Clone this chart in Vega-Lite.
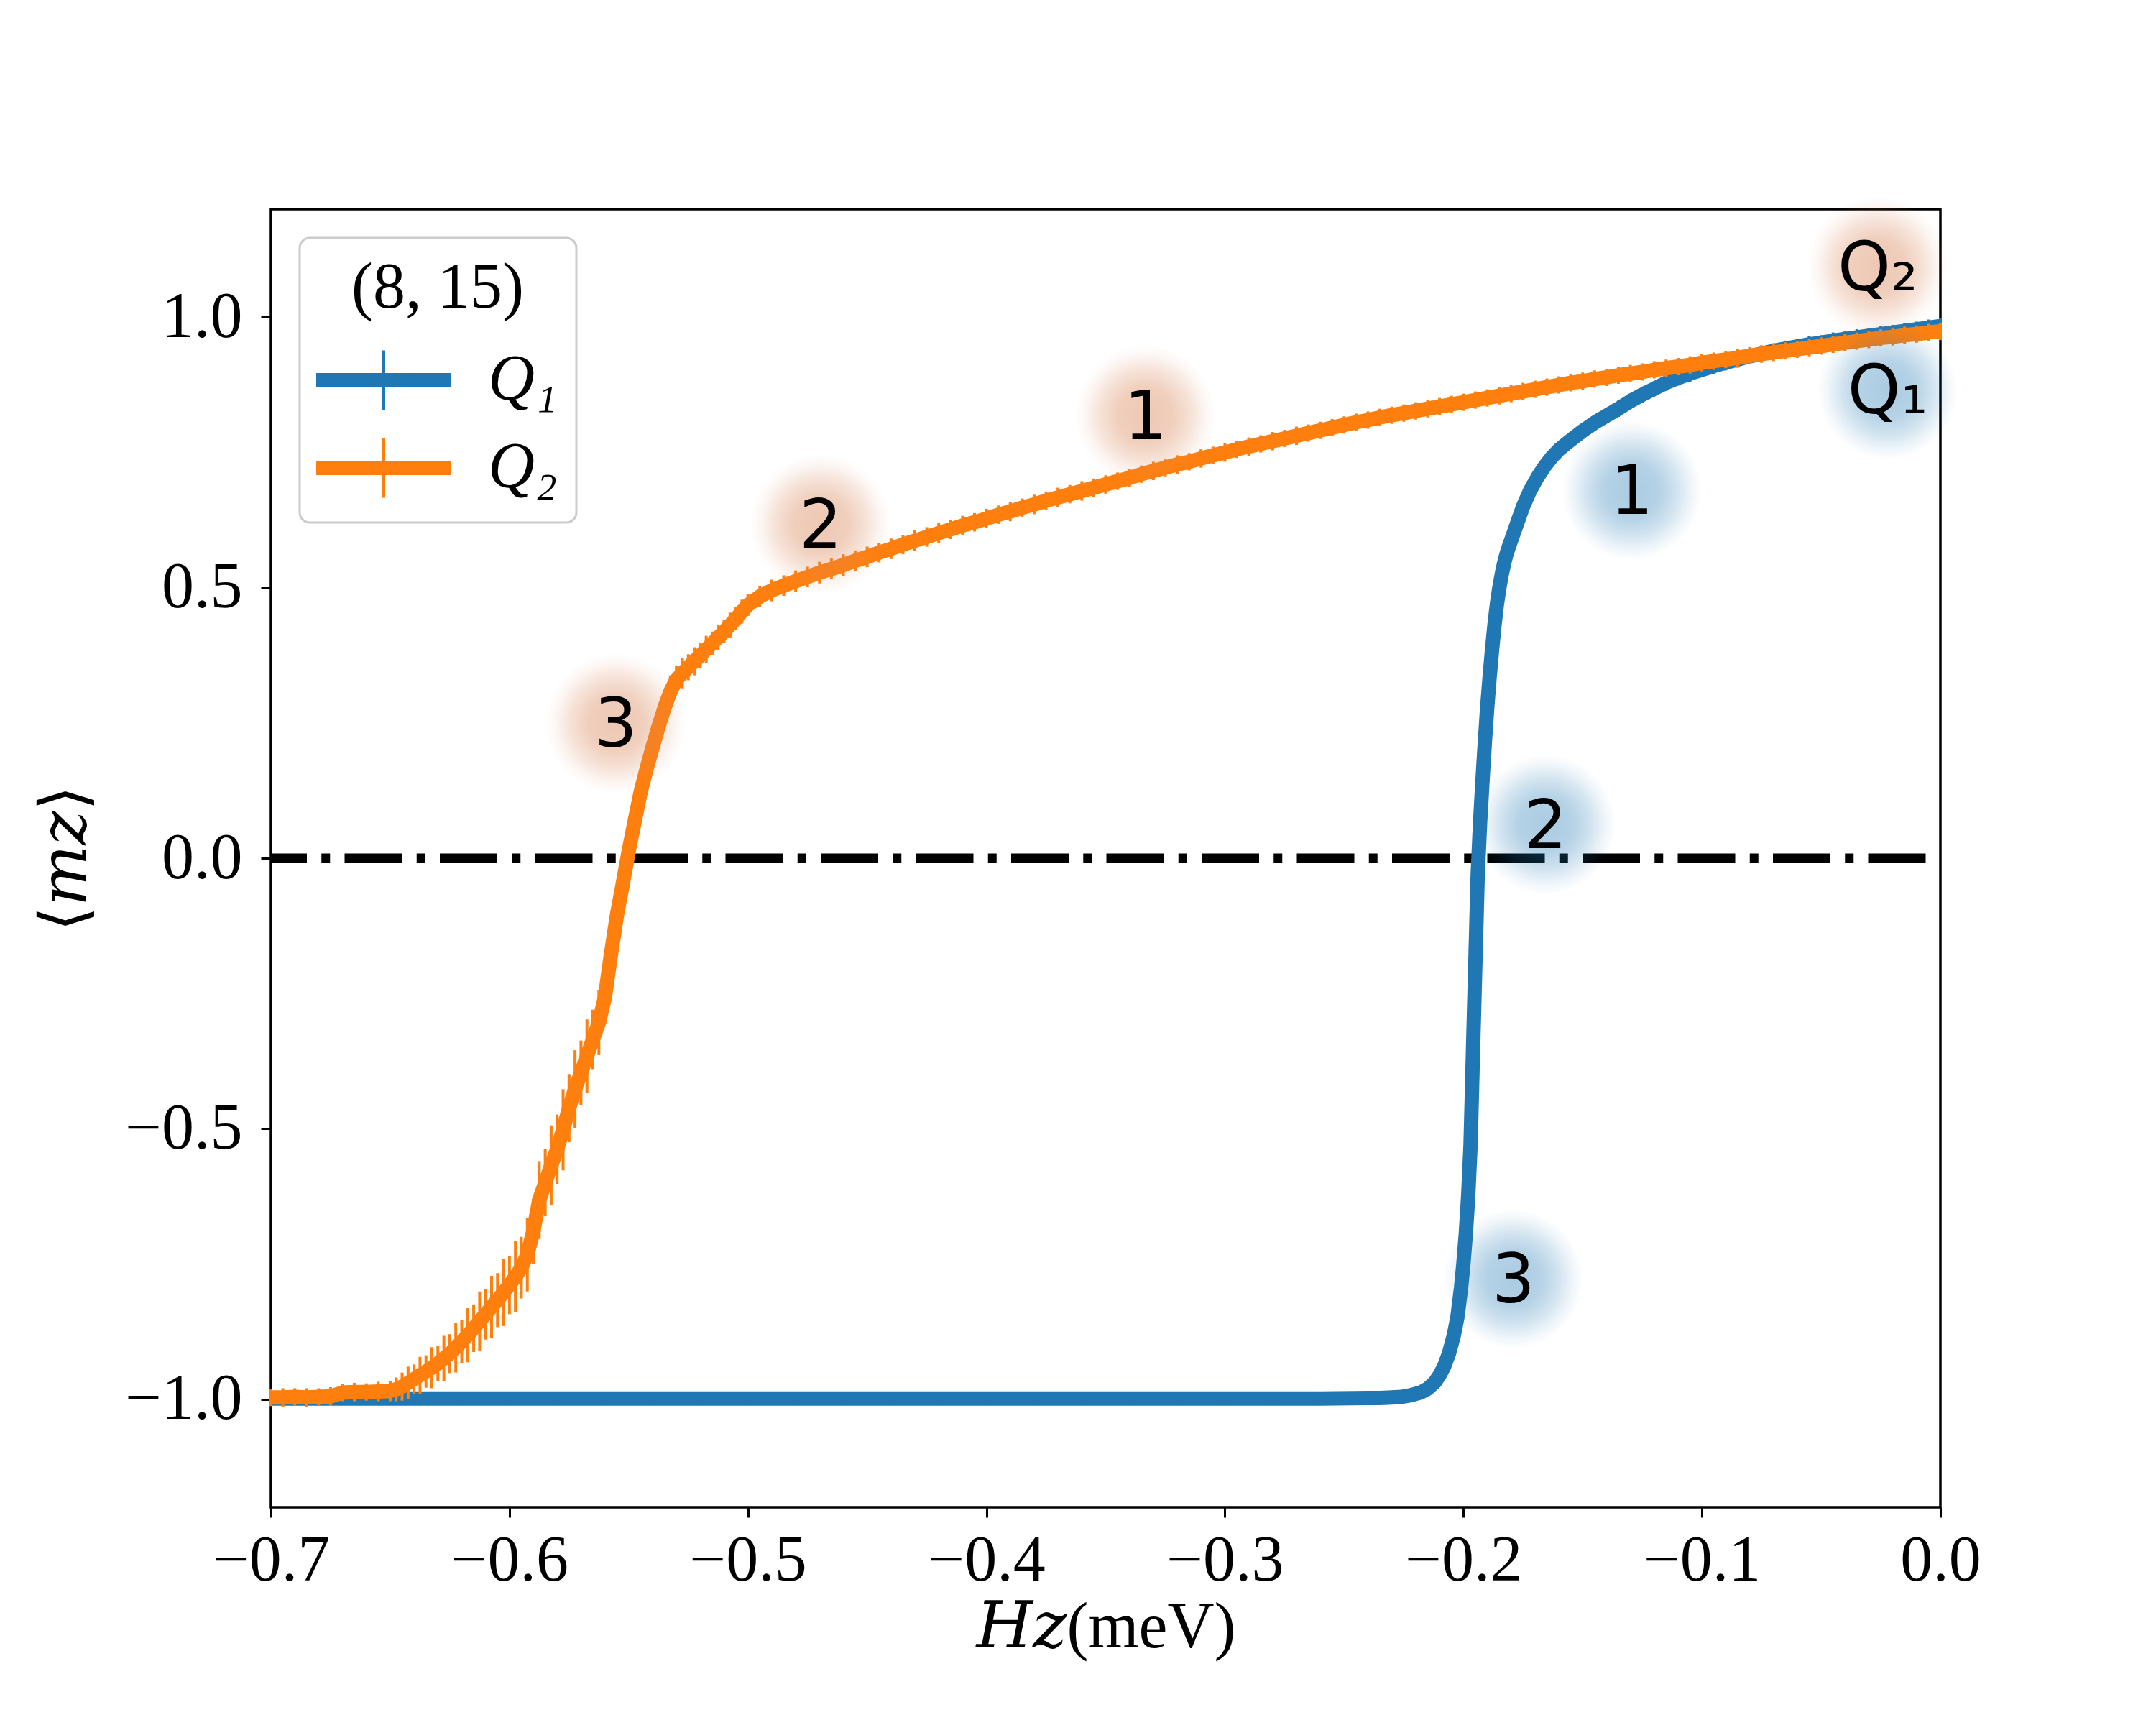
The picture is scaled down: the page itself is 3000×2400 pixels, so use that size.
{
  "$schema": "https://vega.github.io/schema/vega-lite/v6.json",
  "width": 2323,
  "height": 1806,
  "autosize": {"type": "none"},
  "padding": {"left": 377, "top": 291, "right": 300, "bottom": 303},
  "background": "white",
  "config": {
    "font": "Liberation Serif",
    "view": {"stroke": "black", "strokeWidth": 3.5},
    "legend": {"strokeWidth": 3},
    "axis": {
      "domain": false,
      "grid": false,
      "ticks": true,
      "tickColor": "black",
      "tickWidth": 3,
      "tickSize": 14,
      "labelFont": "Liberation Serif",
      "labelFontSize": 90,
      "labelColor": "black",
      "labelFlush": false,
      "labelOverlap": false,
      "labelBound": false,
      "titleFont": "Liberation Serif, DejaVu Serif",
      "titleFontSize": 90,
      "titleFontWeight": "normal",
      "titleColor": "black"
    }
  },
  "datasets": {
    "q1": [
      {"h": -0.70, "m": -0.999, "e": 0.004}, {"h": -0.68, "m": -0.999, "e": 0.004}, {"h": -0.66, "m": -0.999, "e": 0.004},
      {"h": -0.64, "m": -0.999, "e": 0.004}, {"h": -0.62, "m": -0.999, "e": 0.004}, {"h": -0.60, "m": -0.999, "e": 0.004},
      {"h": -0.58, "m": -0.999, "e": 0.004}, {"h": -0.56, "m": -0.999, "e": 0.004}, {"h": -0.54, "m": -0.999, "e": 0.004},
      {"h": -0.52, "m": -0.999, "e": 0.004}, {"h": -0.50, "m": -0.999, "e": 0.004}, {"h": -0.48, "m": -0.999, "e": 0.004},
      {"h": -0.46, "m": -0.999, "e": 0.004}, {"h": -0.44, "m": -0.999, "e": 0.004}, {"h": -0.42, "m": -0.999, "e": 0.004},
      {"h": -0.40, "m": -0.999, "e": 0.004}, {"h": -0.38, "m": -0.999, "e": 0.004}, {"h": -0.36, "m": -0.999, "e": 0.004},
      {"h": -0.34, "m": -0.999, "e": 0.004}, {"h": -0.32, "m": -0.999, "e": 0.004}, {"h": -0.30, "m": -0.999, "e": 0.004},
      {"h": -0.28, "m": -0.999, "e": 0.004}, {"h": -0.26, "m": -0.999, "e": 0.004}, {"h": -0.24, "m": -0.998, "e": 0.004},
      {"h": -0.235, "m": -0.998, "e": 0.004}, {"h": -0.230, "m": -0.997, "e": 0.004}, {"h": -0.226, "m": -0.996, "e": 0.004},
      {"h": -0.222, "m": -0.993, "e": 0.005}, {"h": -0.218, "m": -0.988, "e": 0.005}, {"h": -0.215, "m": -0.981, "e": 0.005},
      {"h": -0.212, "m": -0.969, "e": 0.006}, {"h": -0.210, "m": -0.956, "e": 0.006}, {"h": -0.208, "m": -0.939, "e": 0.006},
      {"h": -0.206, "m": -0.915, "e": 0.006}, {"h": -0.204, "m": -0.882, "e": 0.006}, {"h": -0.2025, "m": -0.848, "e": 0.006},
      {"h": -0.201, "m": -0.795, "e": 0.006}, {"h": -0.200, "m": -0.750, "e": 0.006}, {"h": -0.199, "m": -0.695, "e": 0.006},
      {"h": -0.198, "m": -0.625, "e": 0.006}, {"h": -0.197, "m": -0.530, "e": 0.006}, {"h": -0.196, "m": -0.360, "e": 0.006},
      {"h": -0.195, "m": -0.195, "e": 0.006}, {"h": -0.194, "m": -0.030, "e": 0.006}, {"h": -0.193, "m": 0.066, "e": 0.006},
      {"h": -0.192, "m": 0.143, "e": 0.006}, {"h": -0.191, "m": 0.215, "e": 0.006}, {"h": -0.190, "m": 0.280, "e": 0.006},
      {"h": -0.189, "m": 0.335, "e": 0.007}, {"h": -0.188, "m": 0.385, "e": 0.007}, {"h": -0.187, "m": 0.430, "e": 0.008},
      {"h": -0.186, "m": 0.468, "e": 0.008}, {"h": -0.185, "m": 0.498, "e": 0.009}, {"h": -0.184, "m": 0.523, "e": 0.009},
      {"h": -0.183, "m": 0.544, "e": 0.010}, {"h": -0.182, "m": 0.561, "e": 0.010}, {"h": -0.181, "m": 0.575, "e": 0.011},
      {"h": -0.179, "m": 0.600, "e": 0.011}, {"h": -0.177, "m": 0.625, "e": 0.012}, {"h": -0.175, "m": 0.650, "e": 0.012},
      {"h": -0.172, "m": 0.680, "e": 0.013}, {"h": -0.169, "m": 0.704, "e": 0.013}, {"h": -0.166, "m": 0.724, "e": 0.014},
      {"h": -0.163, "m": 0.741, "e": 0.014}, {"h": -0.160, "m": 0.755, "e": 0.014}, {"h": -0.155, "m": 0.773, "e": 0.015},
      {"h": -0.150, "m": 0.790, "e": 0.014}, {"h": -0.145, "m": 0.805, "e": 0.015}, {"h": -0.140, "m": 0.818, "e": 0.014},
      {"h": -0.135, "m": 0.831, "e": 0.015}, {"h": -0.130, "m": 0.845, "e": 0.014}, {"h": -0.125, "m": 0.857, "e": 0.015},
      {"h": -0.120, "m": 0.868, "e": 0.014}, {"h": -0.115, "m": 0.879, "e": 0.015}, {"h": -0.110, "m": 0.888, "e": 0.014},
      {"h": -0.105, "m": 0.896, "e": 0.015}, {"h": -0.100, "m": 0.903, "e": 0.014}, {"h": -0.095, "m": 0.910, "e": 0.015},
      {"h": -0.090, "m": 0.916, "e": 0.014}, {"h": -0.085, "m": 0.922, "e": 0.015}, {"h": -0.080, "m": 0.928, "e": 0.014},
      {"h": -0.075, "m": 0.933, "e": 0.015}, {"h": -0.070, "m": 0.938, "e": 0.014}, {"h": -0.065, "m": 0.942, "e": 0.015},
      {"h": -0.060, "m": 0.946, "e": 0.014}, {"h": -0.055, "m": 0.950, "e": 0.015}, {"h": -0.050, "m": 0.953, "e": 0.014},
      {"h": -0.045, "m": 0.957, "e": 0.015}, {"h": -0.040, "m": 0.960, "e": 0.014}, {"h": -0.035, "m": 0.963, "e": 0.015},
      {"h": -0.030, "m": 0.966, "e": 0.014}, {"h": -0.025, "m": 0.969, "e": 0.015}, {"h": -0.020, "m": 0.972, "e": 0.014},
      {"h": -0.015, "m": 0.975, "e": 0.015}, {"h": -0.010, "m": 0.978, "e": 0.014}, {"h": -0.005, "m": 0.981, "e": 0.015},
      {"h": 0.000, "m": 0.984, "e": 0.014}
    ],
    "q2": [
      {"h": -0.700, "m": -0.997, "e": 0.016}, {"h": -0.695, "m": -0.997, "e": 0.017}, {"h": -0.690, "m": -0.996, "e": 0.016},
      {"h": -0.685, "m": -0.997, "e": 0.017}, {"h": -0.680, "m": -0.996, "e": 0.016}, {"h": -0.675, "m": -0.995, "e": 0.017},
      {"h": -0.670, "m": -0.988, "e": 0.016}, {"h": -0.665, "m": -0.987, "e": 0.017}, {"h": -0.660, "m": -0.987, "e": 0.016},
      {"h": -0.655, "m": -0.986, "e": 0.018}, {"h": -0.650, "m": -0.985, "e": 0.019},
      {"h": -0.6475, "m": -0.982, "e": 0.022}, {"h": -0.6450, "m": -0.977, "e": 0.026}, {"h": -0.6425, "m": -0.970, "e": 0.030},
      {"h": -0.6400, "m": -0.963, "e": 0.027}, {"h": -0.6375, "m": -0.956, "e": 0.034}, {"h": -0.6350, "m": -0.949, "e": 0.030},
      {"h": -0.6325, "m": -0.942, "e": 0.038}, {"h": -0.6300, "m": -0.934, "e": 0.033}, {"h": -0.6275, "m": -0.925, "e": 0.042},
      {"h": -0.6250, "m": -0.916, "e": 0.036}, {"h": -0.6225, "m": -0.905, "e": 0.046}, {"h": -0.6200, "m": -0.894, "e": 0.040},
      {"h": -0.6175, "m": -0.882, "e": 0.050}, {"h": -0.6150, "m": -0.869, "e": 0.044}, {"h": -0.6125, "m": -0.856, "e": 0.055},
      {"h": -0.6100, "m": -0.843, "e": 0.047}, {"h": -0.6075, "m": -0.830, "e": 0.058}, {"h": -0.6050, "m": -0.817, "e": 0.050},
      {"h": -0.6025, "m": -0.803, "e": 0.062}, {"h": -0.6000, "m": -0.789, "e": 0.054}, {"h": -0.5975, "m": -0.774, "e": 0.066},
      {"h": -0.5950, "m": -0.757, "e": 0.057}, {"h": -0.5925, "m": -0.733, "e": 0.068}, {"h": -0.5900, "m": -0.690, "e": 0.060},
      {"h": -0.5875, "m": -0.632, "e": 0.072}, {"h": -0.5850, "m": -0.600, "e": 0.062}, {"h": -0.5825, "m": -0.568, "e": 0.074},
      {"h": -0.5800, "m": -0.538, "e": 0.064}, {"h": -0.5775, "m": -0.502, "e": 0.075}, {"h": -0.5750, "m": -0.462, "e": 0.063},
      {"h": -0.5725, "m": -0.427, "e": 0.072}, {"h": -0.5700, "m": -0.397, "e": 0.060}, {"h": -0.5675, "m": -0.366, "e": 0.068},
      {"h": -0.5650, "m": -0.335, "e": 0.055}, {"h": -0.5625, "m": -0.304, "e": 0.060}, {"h": -0.5600, "m": -0.258, "e": 0.048},
      {"h": -0.5575, "m": -0.180, "e": 0.052}, {"h": -0.5550, "m": -0.107, "e": 0.042}, {"h": -0.5525, "m": -0.048, "e": 0.045},
      {"h": -0.5500, "m": 0.013, "e": 0.038}, {"h": -0.5475, "m": 0.068, "e": 0.040}, {"h": -0.5450, "m": 0.122, "e": 0.034},
      {"h": -0.5425, "m": 0.165, "e": 0.036}, {"h": -0.5400, "m": 0.205, "e": 0.031}, {"h": -0.5375, "m": 0.243, "e": 0.033},
      {"h": -0.5350, "m": 0.278, "e": 0.028}, {"h": -0.5325, "m": 0.308, "e": 0.030}, {"h": -0.5300, "m": 0.330, "e": 0.026},
      {"h": -0.5275, "m": 0.342, "e": 0.028}, {"h": -0.5250, "m": 0.353, "e": 0.024}, {"h": -0.5225, "m": 0.364, "e": 0.026},
      {"h": -0.5200, "m": 0.375, "e": 0.023}, {"h": -0.5175, "m": 0.386, "e": 0.025}, {"h": -0.5150, "m": 0.397, "e": 0.022},
      {"h": -0.5125, "m": 0.408, "e": 0.024}, {"h": -0.5100, "m": 0.419, "e": 0.021}, {"h": -0.5075, "m": 0.431, "e": 0.023},
      {"h": -0.5050, "m": 0.443, "e": 0.021}, {"h": -0.5025, "m": 0.456, "e": 0.022}, {"h": -0.5000, "m": 0.468, "e": 0.020},
      {"h": -0.495, "m": 0.484, "e": 0.019}, {"h": -0.490, "m": 0.495, "e": 0.020}, {"h": -0.485, "m": 0.504, "e": 0.019},
      {"h": -0.480, "m": 0.512, "e": 0.020}, {"h": -0.475, "m": 0.520, "e": 0.019}, {"h": -0.470, "m": 0.528, "e": 0.020},
      {"h": -0.465, "m": 0.535, "e": 0.019}, {"h": -0.460, "m": 0.542, "e": 0.020}, {"h": -0.455, "m": 0.550, "e": 0.019},
      {"h": -0.450, "m": 0.557, "e": 0.019}, {"h": -0.445, "m": 0.565, "e": 0.018}, {"h": -0.440, "m": 0.572, "e": 0.019},
      {"h": -0.435, "m": 0.580, "e": 0.018}, {"h": -0.430, "m": 0.587, "e": 0.019}, {"h": -0.425, "m": 0.594, "e": 0.018},
      {"h": -0.420, "m": 0.601, "e": 0.019}, {"h": -0.415, "m": 0.608, "e": 0.018}, {"h": -0.410, "m": 0.615, "e": 0.018},
      {"h": -0.405, "m": 0.621, "e": 0.017}, {"h": -0.400, "m": 0.628, "e": 0.018}, {"h": -0.395, "m": 0.635, "e": 0.017},
      {"h": -0.390, "m": 0.641, "e": 0.018}, {"h": -0.385, "m": 0.648, "e": 0.017}, {"h": -0.380, "m": 0.654, "e": 0.018},
      {"h": -0.375, "m": 0.661, "e": 0.017}, {"h": -0.370, "m": 0.667, "e": 0.018}, {"h": -0.365, "m": 0.673, "e": 0.017},
      {"h": -0.360, "m": 0.679, "e": 0.018}, {"h": -0.355, "m": 0.685, "e": 0.017}, {"h": -0.350, "m": 0.691, "e": 0.017},
      {"h": -0.345, "m": 0.697, "e": 0.016}, {"h": -0.340, "m": 0.703, "e": 0.017}, {"h": -0.335, "m": 0.710, "e": 0.016},
      {"h": -0.330, "m": 0.716, "e": 0.017}, {"h": -0.325, "m": 0.722, "e": 0.016}, {"h": -0.320, "m": 0.728, "e": 0.017},
      {"h": -0.315, "m": 0.733, "e": 0.016}, {"h": -0.310, "m": 0.739, "e": 0.017}, {"h": -0.305, "m": 0.745, "e": 0.016},
      {"h": -0.300, "m": 0.750, "e": 0.017}, {"h": -0.295, "m": 0.756, "e": 0.016}, {"h": -0.290, "m": 0.761, "e": 0.017},
      {"h": -0.285, "m": 0.766, "e": 0.016}, {"h": -0.280, "m": 0.771, "e": 0.017}, {"h": -0.275, "m": 0.776, "e": 0.016},
      {"h": -0.270, "m": 0.781, "e": 0.017}, {"h": -0.265, "m": 0.786, "e": 0.016}, {"h": -0.260, "m": 0.791, "e": 0.016},
      {"h": -0.255, "m": 0.796, "e": 0.016}, {"h": -0.250, "m": 0.801, "e": 0.016}, {"h": -0.245, "m": 0.806, "e": 0.016},
      {"h": -0.240, "m": 0.810, "e": 0.016}, {"h": -0.235, "m": 0.815, "e": 0.016}, {"h": -0.230, "m": 0.819, "e": 0.016},
      {"h": -0.225, "m": 0.823, "e": 0.016}, {"h": -0.220, "m": 0.827, "e": 0.016}, {"h": -0.215, "m": 0.831, "e": 0.016},
      {"h": -0.210, "m": 0.835, "e": 0.016}, {"h": -0.205, "m": 0.839, "e": 0.016}, {"h": -0.200, "m": 0.843, "e": 0.016},
      {"h": -0.195, "m": 0.847, "e": 0.016}, {"h": -0.190, "m": 0.851, "e": 0.016}, {"h": -0.185, "m": 0.855, "e": 0.016},
      {"h": -0.180, "m": 0.859, "e": 0.016}, {"h": -0.175, "m": 0.863, "e": 0.016}, {"h": -0.170, "m": 0.867, "e": 0.016},
      {"h": -0.165, "m": 0.871, "e": 0.016}, {"h": -0.160, "m": 0.875, "e": 0.016}, {"h": -0.155, "m": 0.879, "e": 0.016},
      {"h": -0.150, "m": 0.882, "e": 0.016}, {"h": -0.145, "m": 0.886, "e": 0.016}, {"h": -0.140, "m": 0.889, "e": 0.016},
      {"h": -0.135, "m": 0.893, "e": 0.016}, {"h": -0.130, "m": 0.896, "e": 0.016}, {"h": -0.125, "m": 0.899, "e": 0.016},
      {"h": -0.120, "m": 0.903, "e": 0.016}, {"h": -0.115, "m": 0.906, "e": 0.016}, {"h": -0.110, "m": 0.909, "e": 0.016},
      {"h": -0.105, "m": 0.912, "e": 0.016}, {"h": -0.100, "m": 0.916, "e": 0.016}, {"h": -0.095, "m": 0.919, "e": 0.016},
      {"h": -0.090, "m": 0.922, "e": 0.016}, {"h": -0.085, "m": 0.925, "e": 0.016}, {"h": -0.080, "m": 0.929, "e": 0.016},
      {"h": -0.075, "m": 0.932, "e": 0.016}, {"h": -0.070, "m": 0.935, "e": 0.016}, {"h": -0.065, "m": 0.938, "e": 0.016},
      {"h": -0.060, "m": 0.941, "e": 0.016}, {"h": -0.055, "m": 0.944, "e": 0.016}, {"h": -0.050, "m": 0.947, "e": 0.016},
      {"h": -0.045, "m": 0.950, "e": 0.016}, {"h": -0.040, "m": 0.953, "e": 0.016}, {"h": -0.035, "m": 0.956, "e": 0.016},
      {"h": -0.030, "m": 0.959, "e": 0.016}, {"h": -0.025, "m": 0.962, "e": 0.016}, {"h": -0.020, "m": 0.964, "e": 0.016},
      {"h": -0.015, "m": 0.967, "e": 0.016}, {"h": -0.010, "m": 0.969, "e": 0.016}, {"h": -0.005, "m": 0.972, "e": 0.016},
      {"h": 0.000, "m": 0.974, "e": 0.016}
    ],
    "tags": [
      {"h": -0.0263, "m": 1.094, "t": "Q₂", "g": "o"},
      {"h": -0.3333, "m": 0.819, "t": "1", "g": "o"},
      {"h": -0.4695, "m": 0.6175, "t": "2", "g": "o"},
      {"h": -0.5554, "m": 0.2497, "t": "3", "g": "o"},
      {"h": -0.0221, "m": 0.866, "t": "Q₁", "g": "b"},
      {"h": -0.1294, "m": 0.680, "t": "1", "g": "b"},
      {"h": -0.1655, "m": 0.0624, "t": "2", "g": "b"},
      {"h": -0.1790, "m": -0.778, "t": "3", "g": "b"}
    ]
  },
  "layer": [
    {
      "data": {"values": [{}]},
      "mark": {
        "type": "rule",
        "color": "black",
        "strokeWidth": 13,
        "strokeCap": "butt",
        "strokeDash": [80, 20.25, 12, 20.25],
        "strokeDashOffset": 112
      },
      "encoding": {
        "y": {
          "datum": 0,
          "type": "quantitative",
          "title": "⟨𝑚𝑧⟩",
          "scale": {"domain": [-1.2, 1.2], "nice": false, "zero": false},
          "axis": {
            "values": [-1, -0.5, 0, 0.5, 1],
            "format": ".1f",
            "labelPadding": 26,
            "titlePadding": 40
          }
        }
      }
    },
    {
      "data": {"name": "q1"},
      "mark": {"type": "line", "strokeWidth": 20, "strokeJoin": "round", "clip": true},
      "encoding": {
        "x": {
          "field": "h",
          "type": "quantitative",
          "title": "𝐻𝑧(meV)",
          "scale": {"domain": [-0.7, 0], "nice": false, "zero": false},
          "axis": {
            "values": [-0.7, -0.6, -0.5, -0.4, -0.3, -0.2, -0.1, 0],
            "format": ".1f",
            "labelPadding": 16,
            "titlePadding": 4
          }
        },
        "y": {"field": "m", "type": "quantitative", "title": "⟨𝑚𝑧⟩"},
        "color": {
          "datum": "Q₁",
          "type": "nominal",
          "scale": {"domain": ["Q₁", "Q₂"], "range": ["#1f77b4", "#ff7f0e"]},
          "legend": {
            "title": "(8, 15)",
            "orient": "top-left",
            "offset": 40,
            "padding": 26,
            "cornerRadius": 14,
            "fillColor": "rgba(255,255,255,0.8)",
            "strokeColor": "#cccccc",
            "titleFont": "Liberation Serif",
            "titleFontSize": 90,
            "titleFontWeight": "normal",
            "titleColor": "black",
            "titleAnchor": "middle",
            "titleAlign": "center",
            "titleLimit": 2000,
            "titlePadding": 37,
            "labelFont": "Liberation Serif",
            "labelFontSize": 90,
            "labelFontStyle": "italic",
            "labelColor": "black",
            "labelLimit": 2000,
            "labelOffset": 100,
            "rowPadding": 22,
            "symbolType": "M-3.133,-0.267H3.133M-3.133,-0.2H3.133M-3.133,-0.1H3.133M-3.133,0H3.133M-3.133,0.1H3.133M-3.133,0.2H3.133M-3.133,0.267H3.133M0,-1.383V1.383",
            "symbolSize": 3600,
            "symbolStrokeWidth": 4,
            "symbolOffset": 46,
            "symbolOpacity": 1
          }
        }
      }
    },
    {
      "data": {"name": "q1"},
      "mark": {"type": "errorbar", "thickness": 4},
      "encoding": {
        "x": {"field": "h", "type": "quantitative", "title": "𝐻𝑧(meV)"},
        "y": {"field": "m", "type": "quantitative", "title": "⟨𝑚𝑧⟩"},
        "yError": {"field": "e"},
        "color": {"datum": "Q₁", "type": "nominal"}
      }
    },
    {
      "data": {"name": "q2"},
      "mark": {"type": "line", "strokeWidth": 20, "strokeJoin": "round", "clip": true},
      "encoding": {
        "x": {"field": "h", "type": "quantitative", "title": "𝐻𝑧(meV)"},
        "y": {"field": "m", "type": "quantitative", "title": "⟨𝑚𝑧⟩"},
        "color": {"datum": "Q₂", "type": "nominal"}
      }
    },
    {
      "data": {"name": "q2"},
      "mark": {"type": "errorbar", "thickness": 4},
      "encoding": {
        "x": {"field": "h", "type": "quantitative", "title": "𝐻𝑧(meV)"},
        "y": {"field": "m", "type": "quantitative", "title": "⟨𝑚𝑧⟩"},
        "yError": {"field": "e"},
        "color": {"datum": "Q₂", "type": "nominal"}
      }
    },
    {
      "data": {"name": "tags"},
      "transform": [{"filter": "datum.g === 'b'"}],
      "mark": {
        "type": "point",
        "shape": "circle",
        "filled": true,
        "size": 38000,
        "opacity": 1,
        "strokeWidth": 0,
        "color": {
          "gradient": "radial",
          "stops": [
            {"offset": 0, "color": "rgba(31,119,180,0.38)"},
            {"offset": 0.4, "color": "rgba(31,119,180,0.33)"},
            {"offset": 0.65, "color": "rgba(31,119,180,0.2)"},
            {"offset": 0.85, "color": "rgba(31,119,180,0.07)"},
            {"offset": 1, "color": "rgba(31,119,180,0)"}
          ]
        }
      },
      "encoding": {
        "x": {"field": "h", "type": "quantitative", "title": "𝐻𝑧(meV)"},
        "y": {"field": "m", "type": "quantitative", "title": "⟨𝑚𝑧⟩"}
      }
    },
    {
      "data": {"name": "tags"},
      "transform": [{"filter": "datum.g === 'o'"}],
      "mark": {
        "type": "point",
        "shape": "circle",
        "filled": true,
        "size": 38000,
        "opacity": 1,
        "strokeWidth": 0,
        "color": {
          "gradient": "radial",
          "stops": [
            {"offset": 0, "color": "rgba(218,135,90,0.46)"},
            {"offset": 0.4, "color": "rgba(218,135,90,0.40)"},
            {"offset": 0.65, "color": "rgba(218,135,90,0.24)"},
            {"offset": 0.85, "color": "rgba(218,135,90,0.08)"},
            {"offset": 1, "color": "rgba(218,135,90,0)"}
          ]
        }
      },
      "encoding": {
        "x": {"field": "h", "type": "quantitative", "title": "𝐻𝑧(meV)"},
        "y": {"field": "m", "type": "quantitative", "title": "⟨𝑚𝑧⟩"}
      }
    },
    {
      "data": {"name": "tags"},
      "mark": {
        "type": "text",
        "font": "DejaVu Sans",
        "fontSize": 94,
        "color": "black",
        "align": "center",
        "baseline": "middle",
        "dy": 5
      },
      "encoding": {
        "x": {"field": "h", "type": "quantitative", "title": "𝐻𝑧(meV)"},
        "y": {"field": "m", "type": "quantitative", "title": "⟨𝑚𝑧⟩"},
        "text": {"field": "t"}
      }
    }
  ]
}
